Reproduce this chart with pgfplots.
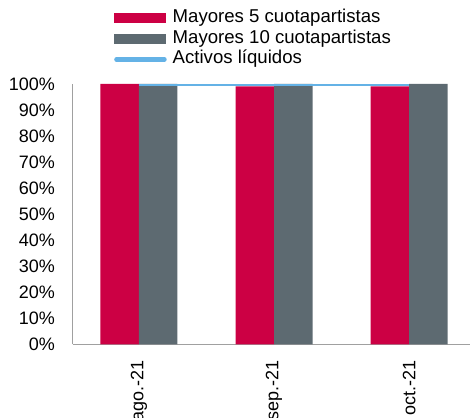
\documentclass[border=0pt]{standalone}
\usepackage{fontspec}
\setmainfont{Liberation Sans}
\usepackage{pgfplots}
\pgfplotsset{compat=1.18}
\definecolor{cred}{HTML}{CC0044}
\definecolor{cgray}{HTML}{5D6A71}
\definecolor{cblue}{HTML}{64B2E6}
\definecolor{caxis}{HTML}{A0A0A0}
\begin{document}
\begin{tikzpicture}
\begin{axis}[
  name=ax,
  scale only axis,
  width=397.3pt, height=260.5pt,
  xmin=-0.49, xmax=2.45,
  ymin=0, ymax=100,
  axis lines=left,
  axis line style={caxis, line width=1pt, -},
  xtick={0,1,2},
  xticklabels={ago.-21,sep.-21,oct.-21},
  ytick={0,10,...,100},
  yticklabel={\pgfmathprintnumber{\tick}\%},
  /pgf/number format/assume math mode=true,
  major tick length=0pt,
  tick style={draw=none},
  ticklabel style={font=\fontsize{18}{20}\selectfont},
  yticklabel style={anchor=east, inner sep=0pt},
  yticklabel shift=17.5pt,
  xticklabel style={rotate=90, anchor=east, inner sep=0pt},
  xticklabel shift=16pt,
  legend style={at={(axis description cs:0.104,1.285)}, anchor=north west,
    draw=none, fill=none, inner sep=0pt, row sep=3.5pt,
    font=\fontsize{18.6}{20}\selectfont,
    nodes={inner xsep=6pt, inner ysep=0pt, text height=13pt, text depth=4pt}},
  legend cell align=left,
  clip=false,
]
\addplot[ybar, bar width=38.5pt, bar shift=-19.25pt, fill=cred, draw=none,
  legend image code/.code={\fill[cred] (0pt,-5pt) rectangle (52pt,5pt);}]
  coordinates {(0,100) (1,99.1) (2,99.1)};
\addlegendentry{Mayores 5 cuotapartistas}
\addplot[ybar, bar width=38.5pt, bar shift=19.25pt, fill=cgray, draw=none,
  legend image code/.code={\fill[cgray] (0pt,-5pt) rectangle (52pt,5pt);}]
  coordinates {(0,100) (1,100) (2,100)};
\addlegendentry{Mayores 10 cuotapartistas}
\addplot[cblue, line width=2pt, mark=none,
  legend image code/.code={\draw[cblue, line width=4.5pt, line cap=round] (2pt,0pt) -- (50pt,0pt);}]
  coordinates {(0,99.7) (1,99.7) (2,99.7)};
\addlegendentry{Activos líquidos}
\end{axis}
\pgfresetboundingbox
\path[use as bounding box] ([shift={(-72.7pt,-73.5pt)}]ax.south west) rectangle ([shift={(0pt,84pt)}]ax.north east);
\end{tikzpicture}
\end{document}
